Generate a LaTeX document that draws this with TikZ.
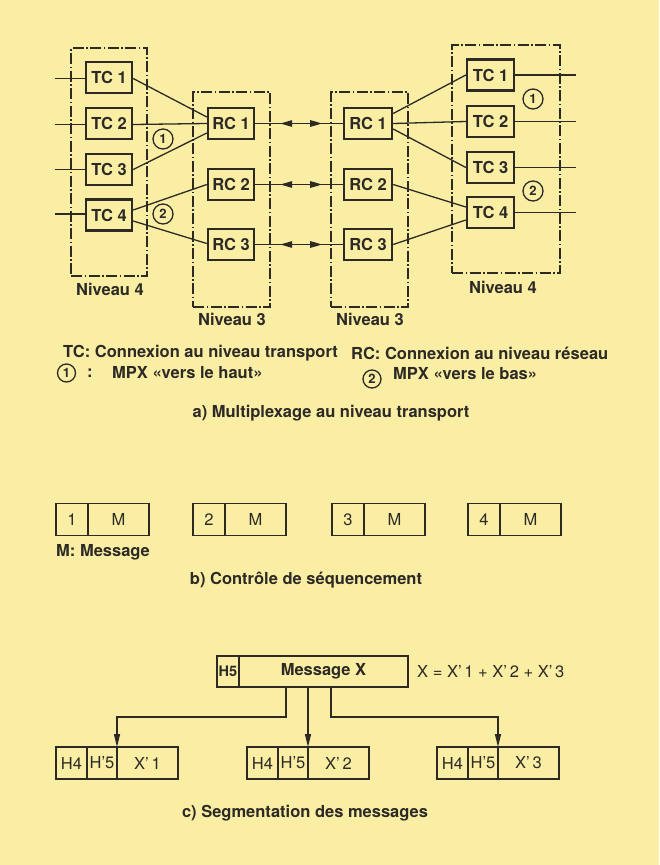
\documentclass[tikz,border=0pt]{standalone}
\usepackage{fontspec}
\setmainfont{TeX Gyre Heros}
\usetikzlibrary{arrows.meta,decorations.markings,calc}
\definecolor{bg}{RGB}{250,238,165}
\definecolor{ink}{RGB}{45,42,38}
\begin{document}
\begin{tikzpicture}[x=1pt,y=-1pt,
  every node/.style={text=ink},
  big/.style={font=\bfseries\fontsize{16.5}{20}\selectfont},
  cbox/.style={draw=ink,line width=2.4pt,minimum width=46pt,minimum height=31pt,inner sep=0pt,big},
  nivbox/.style={draw=ink,line width=1.2pt,dash pattern=on 11pt off 2.5pt on 1.5pt off 2.5pt,inner sep=0pt},
  lnk/.style={draw=ink,line width=1.3pt},
  circ/.style={circle,draw=ink,line width=1.3pt,minimum size=20pt,inner sep=0pt,font=\bfseries\fontsize{13}{15}\selectfont},
  cell/.style={draw=ink,line width=1.7pt,minimum height=32pt,inner sep=0pt,outer sep=0pt,font=\fontsize{16.5}{20}\selectfont},
  tip/.style={-{Triangle[length=13pt,width=6pt]}},
  midarr/.style={postaction={decorate},decoration={markings,
     mark=at position 25pt with {\arrowreversed{Triangle[length=12pt,width=6.5pt]}},
     mark=at position 67pt with {\arrow{Triangle[length=12pt,width=6.5pt]}}}},
]
\fill[bg] (0,0) rectangle (659,865);
\useasboundingbox (0,0) rectangle (659,865);

% ---- level boxes
\node[nivbox,minimum width=76pt,minimum height=228pt] (n4l) at (109,162) {};
\node[nivbox,minimum width=77pt,minimum height=215pt] (n3l) at (231.5,199.5) {};
\node[nivbox,minimum width=77pt,minimum height=215pt] (n3r) at (369.5,199.5) {};
\node[nivbox,minimum width=108pt,minimum height=228pt] (n4r) at (506,159) {};
\node[big] (ln4l) at (110,289) {Niveau 4};
\node[big] (ln3l) at (232,319) {Niveau 3};
\node[big] (ln3r) at (370,319) {Niveau 3};
\node[big] (ln4r) at (503,287) {Niveau 4};

% ---- TC / RC boxes
\node[cbox] (lTC1) at (109,77.5) {TC 1};
\node[cbox] (lTC2) at (109,123.5) {TC 2};
\node[cbox] (lTC3) at (109,169.5) {TC 3};
\node[cbox] (lTC4) at (109,215) {TC 4};
\node[cbox] (lRC1) at (231,123.5) {RC 1};
\node[cbox] (lRC2) at (231,184.5) {RC 2};
\node[cbox] (lRC3) at (231,244.5) {RC 3};
\node[cbox,minimum width=48pt] (rRC1) at (368,123.5) {RC 1};
\node[cbox,minimum width=48pt] (rRC2) at (368,184.5) {RC 2};
\node[cbox,minimum width=48pt] (rRC3) at (368,244.5) {RC 3};
\node[cbox,minimum width=47pt] (rTC1) at (490.5,75) {TC 1};
\node[cbox,minimum width=47pt] (rTC2) at (490.5,121.5) {TC 2};
\node[cbox,minimum width=47pt] (rTC3) at (490.5,167.5) {TC 3};
\node[cbox,minimum width=47pt] (rTC4) at (490.5,212.5) {TC 4};

% free ends
\coordinate (i1) at (55,78.5);
\coordinate (i2) at (55,124.5);
\coordinate (i3) at (55,169.5);
\coordinate (i4) at (55,214);
\coordinate (o1) at (576,75);
\coordinate (o2) at (576,121.5);
\coordinate (o3) at (576,167.5);
\coordinate (o4) at (576,212.5);
\foreach \k in {1,2,3,4}{
  \draw[lnk] (i\k) -- (i\k -| lTC\k.west);
  \draw[lnk] (rTC\k.east |- o\k) -- (o\k);
}

% left links
\draw[lnk] ([yshift=-1pt]lTC1.east) -- ([yshift=6.5pt]lRC1.west);
\draw[lnk] ([yshift=-1pt]lTC2.east) -- (lRC1.west);
\draw[lnk] (lTC3.east) -- ([yshift=-9.5pt]lRC1.west);
\draw[lnk] ([yshift=5pt]lTC4.east) -- (lRC2.west);
\draw[lnk] ([yshift=-6pt]lTC4.east) -- ([yshift=1pt]lRC3.west);
% right links
\draw[lnk] ([yshift=10pt]rRC1.east) -- (rTC1.west);
\draw[lnk] (rRC1.east) -- (rTC2.west);
\draw[lnk] ([yshift=-5.5pt]rRC1.east) -- (rTC3.west);
\draw[lnk] (rRC2.east) -- ([yshift=5.5pt]rTC4.west);
\draw[lnk] (rRC3.east) -- ([yshift=-7.5pt]rTC4.west);
% network level links
\draw[lnk,midarr] (lRC1.east) -- (rRC1.west);
\draw[lnk,midarr] (lRC2.east) -- (rRC2.west);
\draw[lnk,midarr] (lRC3.east) -- (rRC3.west);

% circled numbers
\node[circ] (cl1) at (163,139) {1};
\node[circ] (cl2) at (163,214) {2};
\node[circ] (cr1) at (533,99) {1};
\node[circ] (cr2) at (533,191) {2};

% ---- legend
\node[big,anchor=west,inner sep=0pt] (lgTC) at (63,353) {TC: Connexion au niveau transport};
\node[big,anchor=west,inner sep=0pt] (lgRC) at (351,353) {RC: Connexion au niveau réseau};
\node[circ,minimum size=18pt] (lg1) at (66.5,373) {1};
\node[big,anchor=west,inner sep=0pt] (lgc) at (87,373) {:};
\node[big,anchor=west,inner sep=0pt] (lgH) at (112,373) {MPX «vers le haut»};
\node[circ,minimum size=18pt] (lg2) at (372,379) {2};
\node[big,anchor=west,inner sep=0pt] (lgB) at (393,374) {MPX «vers le bas»};
\node[big] (capa) at (331,413) {a) Multiplexage au niveau transport};

% ---- part b
\foreach \i/\L in {1/56,2/193,3/332,4/468}{
  \node[cell,minimum width=32pt] (b\i n) at (\L+16,519.5) {\i};
  \node[cell,minimum width=61pt,anchor=west] (b\i m) at (b\i n.east) {M};
}
\node[big,anchor=west,inner sep=0pt] (bleg) at (56,552) {M: Message};
\node[big] (capb) at (306,580) {b) Contrôle de séquencement};

% ---- part c
\node[cell,minimum width=22pt,minimum height=31pt,font=\bfseries\fontsize{14.5}{18}\selectfont] (h5) at (228,671.5) {H5};
\node[cell,minimum width=169pt,minimum height=31pt,anchor=west,font=\bfseries\fontsize{16.5}{20}\selectfont] (msg) at (h5.east) {Message X};
\node[anchor=west,inner sep=0pt,font=\fontsize{16.5}{20}\selectfont] (eq) at (417,672) {X = X’\,1 + X’\,2 + X’\,3};

\foreach \j/\L/\t in {1/56/1,2/247/2,3/437/3}{
  \node[cell,minimum width=31pt] (c\j a) at (\L+15.5,763) {H4};
  \node[cell,minimum width=30pt,anchor=west] (c\j b) at (c\j a.east) {H’5};
  \node[cell,minimum width=61pt,anchor=west] (c\j x) at (c\j b.east) {X’\,\t};
}
\coordinate (s1) at ([xshift=47pt]msg.south west);
\coordinate (s2) at ([xshift=69pt]msg.south west);
\coordinate (s3) at ([xshift=92pt]msg.south west);
\draw[lnk,tip] (s1) -- ++(0,30) -| (c1x.north west);
\draw[lnk,tip] (s2) -- (c2x.north west);
\draw[lnk,tip] (s3) -- ++(0,30) -| (c3x.north west);

\node[big] (capc) at (305,813) {c) Segmentation des messages};
\end{tikzpicture}
\end{document}
